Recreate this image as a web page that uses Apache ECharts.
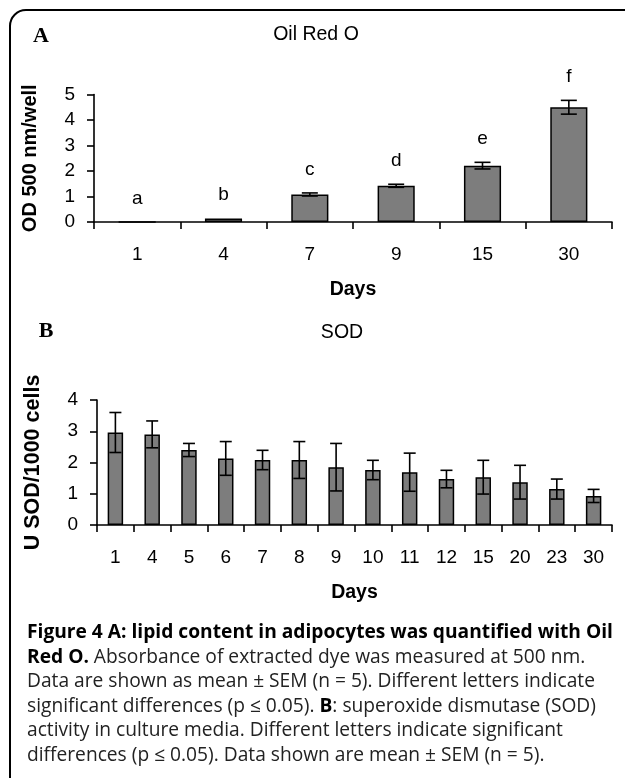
<!DOCTYPE html>
<html>
<head>
<meta charset="utf-8">
<script src="https://cdn.jsdelivr.net/npm/echarts@6/dist/echarts.min.js"></script>
<style>
  html, body { margin: 0; padding: 0; background: #fff; }
  #main { width: 625px; height: 778px; }
</style>
</head>
<body>
<div id="main"></div>
<script>
// panel A: Oil Red O
const daysA = ['1', '4', '7', '9', '15', '30'];
const odMean = [0, 0.14, 1.08, 1.42, 2.21, 4.50];
const odSem = [0, 0.02, 0.06, 0.06, 0.13, 0.27];
const odLetters = ['a', 'b', 'c', 'd', 'e', 'f'];

// panel B: SOD
const daysB = ['1', '4', '5', '6', '7', '8', '9', '10', '11', '12', '15', '20', '23', '30'];
const sodMean = [2.96, 2.90, 2.40, 2.13, 2.08, 2.08, 1.85, 1.76, 1.69, 1.47, 1.53, 1.37, 1.15, 0.93];
const sodSem = [0.64, 0.43, 0.21, 0.54, 0.31, 0.59, 0.76, 0.31, 0.61, 0.28, 0.54, 0.54, 0.32, 0.21];

const captionLines = [
  [['b', 'Figure 4 A: lipid content in adipocytes was quantified with Oil']],
  [['b', 'Red O.'], ['n', ' Absorbance of extracted dye was measured at 500 nm.']],
  [['n', 'Data are shown as mean \u00b1 SEM (n = 5). Different letters indicate']],
  [['n', 'significant differences (p \u2264 0.05). '], ['b', 'B'], ['n', ': superoxide dismutase (SOD)']],
  [['n', 'activity in culture media. Different letters indicate significant']],
  [['n', 'differences (p \u2264 0.05). Data shown are mean \u00b1 SEM (n = 5).']]
];

const chart = echarts.init(document.getElementById('main'), null, { renderer: 'canvas' });

const FONT = '"Liberation Sans", Arial, sans-serif';
const tickFont = { color: '#000', fontFamily: FONT, fontSize: 19 };

function errorBars(sems, capW, letters) {
  return function (params, api) {
    const i = api.value(0);
    const mean = api.value(1);
    const sem = sems[i];
    const top = api.coord([i, mean + sem]);
    const bot = api.coord([i, mean - sem]);
    const x = top[0];
    const children = [];
    if (sem > 0.03) {
      children.push(
        { type: 'line', shape: { x1: x, y1: top[1], x2: x, y2: bot[1] }, style: { stroke: '#000', lineWidth: 1.6 } },
        { type: 'line', shape: { x1: x - capW / 2, y1: top[1], x2: x + capW / 2, y2: top[1] }, style: { stroke: '#000', lineWidth: 1.6 } },
        { type: 'line', shape: { x1: x - capW / 2, y1: bot[1], x2: x + capW / 2, y2: bot[1] }, style: { stroke: '#000', lineWidth: 1.6 } }
      );
    }
    if (letters) {
      children.push({
        type: 'text',
        style: {
          text: letters[i], x: x, y: top[1] - 23.5,
          align: 'center', verticalAlign: 'middle',
          fill: '#000', font: '19px ' + FONT
        }
      });
    }
    return { type: 'group', children: children };
  };
}

function catAxis(idx, data) {
  return {
    type: 'category', gridIndex: idx, data: data,
    name: 'Days', nameLocation: 'middle', nameGap: 58,
    nameTextStyle: { color: '#000', fontFamily: FONT, fontSize: 19.5, fontWeight: 'bold' },
    axisLine: { lineStyle: { color: '#000', width: 1.6 } },
    axisTick: { show: true, length: 7, alignWithLabel: false, lineStyle: { color: '#000', width: 1.6 } },
    axisLabel: Object.assign({ margin: 23, interval: 0 }, tickFont),
    splitLine: { show: false }
  };
}

function valAxis(idx, max, name, gap, nameSize) {
  return {
    type: 'value', gridIndex: idx, min: 0, max: max, interval: 1,
    name: name, nameLocation: 'middle', nameGap: gap,
    nameTextStyle: { color: '#000', fontFamily: FONT, fontSize: nameSize, fontWeight: 'bold' },
    axisLine: { show: true, lineStyle: { color: '#000', width: 1.6 } },
    axisTick: { show: true, length: 7, lineStyle: { color: '#000', width: 1.6 } },
    axisLabel: Object.assign({ margin: 19 }, tickFont),
    splitLine: { show: false }
  };
}

const titleFont = '19.5px ' + FONT;
const graphics = [
  { type: 'rect', shape: { x: 10, y: 10, width: 640, height: 800, r: [16, 0, 0, 0] },
    style: { fill: 'none', stroke: '#000', lineWidth: 2 }, z: 10 },
  { type: 'text', style: { text: 'A', x: 41, y: 36, align: 'center', verticalAlign: 'middle', fill: '#000', font: 'bold 22px "Liberation Serif", serif' } },
  { type: 'text', style: { text: 'B', x: 46, y: 331, align: 'center', verticalAlign: 'middle', fill: '#000', font: 'bold 22px "Liberation Serif", serif' } },
  { type: 'text', style: { text: 'Oil Red O', x: 316, y: 35, align: 'center', verticalAlign: 'middle', fill: '#000', font: titleFont } },
  { type: 'text', style: { text: 'SOD', x: 342, y: 333, align: 'center', verticalAlign: 'middle', fill: '#000', font: titleFont } }
];

captionLines.forEach((segs, k) => {
  const text = segs.map(s => '{' + s[0] + '|' + s[1] + '}').join('');
  graphics.push({
    type: 'text',
    style: {
      text: text, x: 27, y: 633 + k * 24.5, verticalAlign: 'middle',
      rich: {
        b: { fontFamily: '"Open Sans", sans-serif', fontSize: 19.2, fontWeight: 'bold', fill: '#000' },
        n: { fontFamily: '"Open Sans", sans-serif', fontSize: 19.2, fill: '#222' }
      }
    }
  });
});

chart.setOption({
  backgroundColor: '#fff',
  animation: false,
  grid: [
    { left: 94, right: 13, top: 94.5, height: 127.5 },
    { left: 97, right: 13, top: 400, height: 125 }
  ],
  xAxis: [catAxis(0, daysA), catAxis(1, daysB)],
  yAxis: [valAxis(0, 5, 'OD 500 nm/well', 54, 20), valAxis(1, 4, 'U SOD/1000 cells', 53, 21.5)],
  series: [
    { type: 'bar', xAxisIndex: 0, yAxisIndex: 0, data: odMean, barWidth: '43%',
      itemStyle: { color: '#7d7d7d', borderColor: '#000', borderWidth: 1.5 } },
    { type: 'custom', xAxisIndex: 0, yAxisIndex: 0, z: 5,
      data: odMean.map((v, i) => [i, v]),
      renderItem: errorBars(odSem, 16, odLetters) },
    { type: 'bar', xAxisIndex: 1, yAxisIndex: 1, data: sodMean, barWidth: '42%',
      itemStyle: { color: '#7d7d7d', borderColor: '#000', borderWidth: 1.5 } },
    { type: 'custom', xAxisIndex: 1, yAxisIndex: 1, z: 5,
      data: sodMean.map((v, i) => [i, v]),
      renderItem: errorBars(sodSem, 12, null) }
  ],
  graphic: graphics
});
</script>
</body>
</html>
